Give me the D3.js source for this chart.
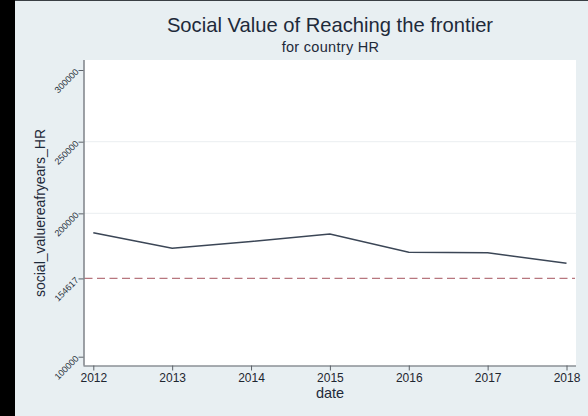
<!DOCTYPE html>
<html>
<head>
<meta charset="utf-8">
<script src="https://cdn.jsdelivr.net/npm/d3@7"></script>
<style>
  html, body { margin: 0; padding: 0; background: #000; }
  svg { display: block; }
  text { font-family: "Liberation Sans", Arial, Helvetica, sans-serif; }
</style>
</head>
<body>
<script>
// Yearly social value series for HR, with the reference level as a dashed line
const years = [2012, 2013, 2014, 2015, 2016, 2017, 2018];
const socialValue = [186500, 175600, 180400, 185600, 172800, 172500, 165200];
const referenceLevel = 154617;
const yTickValues = [100000, 154617, 200000, 250000, 300000];
const gridValues = [200000, 250000];

const W = 588, H = 416;
const svg = d3.select("body").append("svg").attr("width", W).attr("height", H);

// outer frame and background
svg.append("rect").attr("x", 0).attr("y", 0).attr("width", W).attr("height", H).attr("fill", "#000");
svg.append("rect").attr("x", 15).attr("y", 1).attr("width", W - 15).attr("height", H - 1).attr("fill", "#e8eff2");
svg.append("rect").attr("x", 15).attr("y", 0).attr("width", W - 15).attr("height", 1).attr("fill", "#3a3f44");

// plot region
const plot = { left: 83.5, right: 576, top: 60, bottom: 365.5 };
svg.append("rect")
  .attr("x", plot.left).attr("y", plot.top)
  .attr("width", plot.right - plot.left).attr("height", plot.bottom - plot.top)
  .attr("fill", "#ffffff");

const x = d3.scaleLinear().domain([2012, 2018]).range([93.3, 566.5]);
const y = d3.scaleLinear().domain([100000, 300000]).range([356.7, 70]);

// gridlines
svg.append("g").selectAll("line").data(gridValues).join("line")
  .attr("x1", plot.left).attr("x2", plot.right)
  .attr("y1", d => y(d)).attr("y2", d => y(d))
  .attr("stroke", "#eef1f3").attr("stroke-width", 1.2);

// reference level
svg.append("line")
  .attr("x1", plot.left + 1).attr("x2", plot.right - 1)
  .attr("y1", y(referenceLevel)).attr("y2", y(referenceLevel))
  .attr("stroke", "#b7767e").attr("stroke-width", 1.3)
  .attr("stroke-dasharray", "8,4.5");

// series line
const line = d3.line().x((d, i) => x(years[i])).y(d => y(d));
svg.append("path").datum(socialValue)
  .attr("d", line)
  .attr("fill", "none")
  .attr("stroke", "#3b4656")
  .attr("stroke-width", 1.5);

// y axis
const yAxis = svg.append("g")
  .attr("transform", `translate(${plot.left},0)`)
  .call(d3.axisLeft(y).tickValues(yTickValues).tickSize(5).tickPadding(3).tickFormat(d3.format("d")));
yAxis.select(".domain").attr("d", `M0.5,${plot.top}V${plot.bottom}`).attr("stroke", "#5c6269").attr("stroke-width", 1.2);
yAxis.selectAll(".tick line").attr("stroke", "#5c6269");
yAxis.selectAll(".tick text")
  .attr("font-size", 9)
  .attr("fill", "#2a3340")
  .attr("text-anchor", "end")
  .attr("x", -6).attr("dy", "0.3em")
  .attr("transform", "rotate(-45,-6,0)");

// x axis
const xAxis = svg.append("g")
  .attr("transform", `translate(0,${plot.bottom})`)
  .call(d3.axisBottom(x).tickValues(years).tickSize(5).tickPadding(3).tickFormat(d3.format("d")));
xAxis.select(".domain").attr("d", `M${plot.left},0.5H${plot.right}`).attr("stroke", "#5c6269").attr("stroke-width", 1.2);
xAxis.selectAll(".tick line").attr("stroke", "#5c6269");
xAxis.selectAll(".tick text").attr("font-size", 12).attr("fill", "#1e2630");

// titles
svg.append("text").attr("x", 330).attr("y", 32).attr("text-anchor", "middle")
  .attr("font-size", 20.2).attr("fill", "#1e2a3a")
  .text("Social Value of Reaching the frontier");
svg.append("text").attr("x", 330.5).attr("y", 52).attr("text-anchor", "middle")
  .attr("font-size", 14.5).attr("letter-spacing", 0.3).attr("fill", "#1e2a3a")
  .text("for country HR");
svg.append("text").attr("x", 330).attr("y", 398).attr("text-anchor", "middle")
  .attr("font-size", 14.5).attr("fill", "#1e2a3a")
  .text("date");
svg.append("text")
  .attr("transform", "translate(45,213) rotate(-90)")
  .attr("text-anchor", "middle")
  .attr("font-size", 14).attr("fill", "#1e2a3a")
  .text("social_valuereafryears_HR");
</script>
</body>
</html>
